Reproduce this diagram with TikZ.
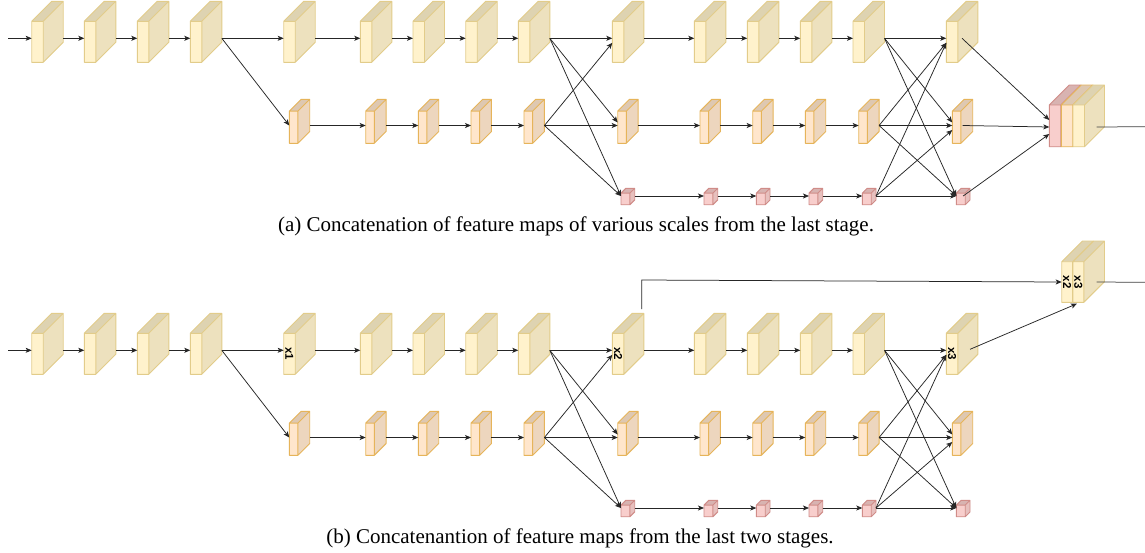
\documentclass[tikz,border=0pt]{standalone}
\usepackage{fontspec}
\setmainfont{Liberation Serif}
\newfontfamily\lblfont{Liberation Sans}
\usetikzlibrary{arrows.meta}
\definecolor{yfill}{HTML}{FFF2CC}
\colorlet{yside}{yfill!93!black}
\colorlet{ytop}{yfill!87!black}
\definecolor{yline}{HTML}{E2CC8A}
\definecolor{ofill}{HTML}{FFE6CC}
\colorlet{oside}{ofill!93!black}
\colorlet{otop}{ofill!87!black}
\definecolor{oline}{HTML}{E6B45A}
\definecolor{pfill}{HTML}{F8CECC}
\colorlet{pside}{pfill!93!black}
\colorlet{ptop}{pfill!87!black}
\definecolor{pline}{HTML}{D08C88}
\tikzset{
  conn/.style={draw=black!85, line width=0.75pt, -{Stealth[length=6pt,width=5pt,inset=1.5pt]}},
  plainconn/.style={draw=black!75, line width=0.75pt},
  cubeline/.style={line width=0.9pt, line join=round},
  lbl/.style={font=\lblfont\bfseries\fontsize{11.5}{11.5}\selectfont, rotate=-90, inner sep=0pt},
  captext/.style={font=\fontsize{21}{25}\selectfont, anchor=base, inner sep=0pt}
}
% #1 name, #2 left, #3 top, #4 width, #5 height, #6 depth, #7 colour prefix, #8 arrow y
\newcommand\cub[8]{%
  \fill[#7top] (#2,#3+#6) -- (#2+#6,#3) -- (#2+#4,#3) -- (#2+#4-#6,#3+#6) -- cycle;
  \fill[#7side] (#2+#4-#6,#3+#6) -- (#2+#4,#3) -- (#2+#4,#3+#5-#6) -- (#2+#4-#6,#3+#5) -- cycle;
  \fill[#7fill] (#2,#3+#6) rectangle (#2+#4-#6,#3+#5);
  \draw[#7line,cubeline] (#2,#3+#6) -- (#2+#6,#3) -- (#2+#4,#3) -- (#2+#4,#3+#5-#6)
     -- (#2+#4-#6,#3+#5) -- (#2,#3+#5) -- cycle
     (#2,#3+#6) -- (#2+#4-#6,#3+#6) -- (#2+#4-#6,#3+#5)
     (#2+#4-#6,#3+#6) -- (#2+#4,#3);
  \node[inner sep=0pt,minimum width=#4pt,minimum height=#5pt] (#1) at (#2+#4/2,#3+#5/2) {};
  \coordinate (#1-i) at (#2,#8);
  \coordinate (#1-o) at (#2+#4,#8);
  \coordinate (#1-c) at (#2+#4/2,#8);
  \coordinate (#1-a) at (#2,#8-3);
  \coordinate (#1-b) at (#2,#8+4.5);
  \coordinate (#1-f) at (#2+#4/2-#6/2,#3+#5/2+#6/2);
}
% #1 prefix, #2 vertical offset
\newcommand\panel[2]{%
  \foreach \n/\xx in {1/31.7,2/84.3,3/137.3,4/190.3,5/283.7,6/360.3,7/413,8/465.7,9/518.3,10/612.3,11/694.3,12/747.3,13/800.3,14/853,15/946.3}
    {\cub{#1r1-\n}{\xx}{1.3+#2}{31.5}{61}{20}{y}{38.3+#2}}
  \foreach \n/\xx in {1/289.3,2/365.7,3/418.3,4/471,5/524,6/617.7,7/700,8/752.7,9/805.3,10/858.7,11/952.3}
    {\cub{#1r2-\n}{\xx}{99.3+#2}{20.4}{44}{11.8}{o}{125.5+#2}}
  \foreach \n/\xx in {1/621,2/704,3/756.3,4/809,5/862.3,6/956.3}
    {\cub{#1r3-\n}{\xx}{188.3+#2}{13.7}{16.4}{4.8}{p}{196+#2}}
  \coordinate (#1in) at (8.3,38.3+#2);
  \draw[conn] (#1in) -- (#1r1-1-i);
  \foreach \n in {1,...,14}{\pgfmathtruncatemacro\m{\n+1}\draw[conn] (#1r1-\n-o) -- (#1r1-\m-i);}
  \foreach \n in {1,...,10}{\pgfmathtruncatemacro\m{\n+1}\draw[conn] (#1r2-\n-o) -- (#1r2-\m-i);}
  \foreach \n in {1,...,5}{\pgfmathtruncatemacro\m{\n+1}\draw[conn] (#1r3-\n-o) -- (#1r3-\m-i);}
  \draw[conn] (#1r1-4-o) -- (#1r2-1-i);
  \draw[conn] (#1r1-9-o) -- (#1r2-6-a);
  \draw[conn] (#1r1-9-o) -- (#1r3-1-i);
  \draw[conn] (#1r2-5-o) -- (#1r1-10-b);
  \draw[conn] (#1r2-5-o) -- (#1r3-1-i);
  \draw[conn] (#1r1-14-o) -- (#1r2-11-a);
  \draw[conn] (#1r1-14-o) -- (#1r3-6-i);
  \draw[conn] (#1r2-10-o) -- (#1r1-15-b);
  \draw[conn] (#1r2-10-o) -- (#1r3-6-i);
  \draw[conn] (#1r3-5-o) -- (#1r1-15-b);
  \draw[conn] (#1r3-5-o) -- (#1r2-11-b);
}
\begin{document}
\begin{tikzpicture}[x=1pt,y=-1pt]
\useasboundingbox (0,0) rectangle (1145,552);
\fill[white] (0,0) rectangle (1145,552);
% ---------- panel (a)
\panel{a}{0}
\cub{cp}{1049.3}{85}{31.5}{61.7}{20}{p}{127}
\cub{co}{1061.3}{85}{31.5}{61.7}{20}{o}{127}
\cub{cy}{1073}{85}{31.5}{61.7}{20}{y}{127}
\draw[conn] (ar1-15-c) -- ([yshift=7pt]cp-i);
\draw[conn] (ar2-11-c) -- (cp-i);
\draw[conn] (ar3-6-c) -- ([yshift=-7pt]cp-i);
\coordinate (aout) at (1145,126.7);
\draw[plainconn] ([xshift=-8pt]cy-o) -- (aout);
\node[captext] (capa) at (576,231) {(a) Concatenation of feature maps of various scales from the last stage.};
% ---------- panel (b)
\panel{b}{312}
\cub{cx2}{1061.7}{241}{31.5}{61.3}{20.7}{y}{282}
\cub{cx3}{1073}{241}{31.5}{61.3}{20.7}{y}{282}
\node[lbl] (l1) at (br1-5-f) {x1};
\node[lbl] (l2) at (br1-10-f) {x2};
\node[lbl] (l3) at (br1-15-f) {x3};
\node[lbl] (lc2) at (cx2-f) {x2};
\node[lbl] (lc3) at (cx3-f) {x3};
\coordinate (x2src) at ([shift={(13.6pt,4pt)}]br1-10.north);
\draw[conn] (x2src) -- (x2src |- 0,280) -- (cx2-i);
\draw[conn] ([shift={(8pt,-5.5pt)}]br1-15.center) -- ([shift={(-11.8pt,-1.2pt)}]cx3.south);
\coordinate (bout) at (1145,282.3);
\draw[plainconn] ([xshift=-8pt]cx3-o) -- (bout);
\node[captext] (capb) at (580,543) {(b) Concatenantion of feature maps from the last two stages.};
\end{tikzpicture}
\end{document}
